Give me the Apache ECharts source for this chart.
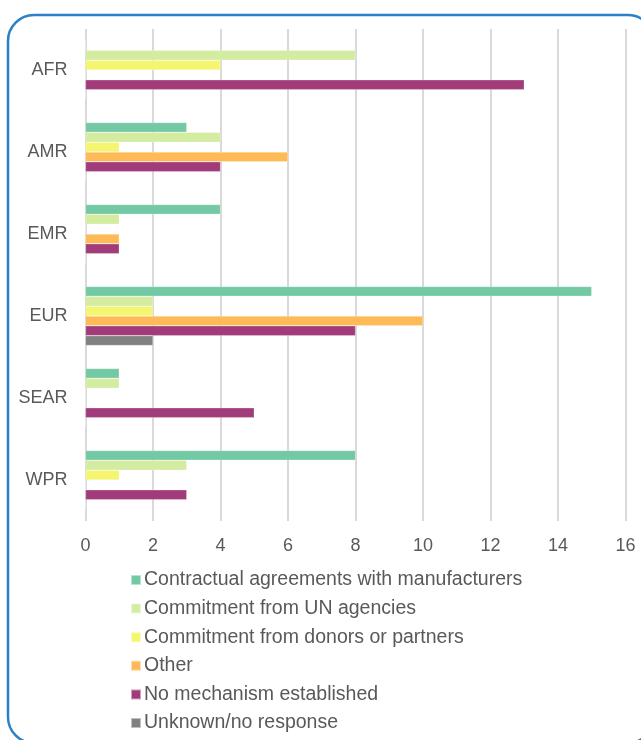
<!DOCTYPE html>
<html>
<head>
<meta charset="utf-8">
<script src="https://cdn.jsdelivr.net/npm/echarts@6/dist/echarts.min.js"></script>
<style>
html,body{margin:0;padding:0;background:#fff;}
#chart{width:641px;height:740px;}
</style>
</head>
<body>
<div id="chart"></div>
<script>
const regions = ['AFR', 'AMR', 'EMR', 'EUR', 'SEAR', 'WPR'];
const seriesNames = [
  'Contractual agreements with manufacturers',
  'Commitment from UN agencies',
  'Commitment from donors or partners',
  'Other',
  'No mechanism established',
  'Unknown/no response'
];
const contractual = [0, 3, 4, 15, 1, 8];
const unAgencies = [8, 4, 1, 2, 1, 3];
const donors = [4, 1, 0, 2, 0, 1];
const other = [0, 6, 1, 10, 0, 0];
const noMechanism = [13, 4, 1, 8, 5, 3];
const unknown = [0, 0, 0, 2, 0, 0];
const xTicks = [0, 2, 4, 6, 8, 10, 12, 14, 16];

const values = [contractual, unAgencies, donors, other, noMechanism, unknown];
const colors = ['#74c9a5', '#d3eca0', '#f5f56f', '#feba57', '#a13b7a', '#808080'];

const chart = echarts.init(document.getElementById('chart'));
const font = "'Liberation Sans', Arial, sans-serif";
chart.setOption({
  animation: false,
  backgroundColor: '#ffffff',
  graphic: [{
    type: 'rect',
    shape: { x: 8, y: 15, width: 646, height: 728, r: 26 },
    style: { fill: 'none', stroke: '#2b80c8', lineWidth: 2.5 },
    z: 100
  }],
  grid: { left: 85.5, right: 15.5, top: 29, bottom: 219, containLabel: false },
  xAxis: {
    type: 'value',
    min: xTicks[0],
    max: xTicks[xTicks.length - 1],
    interval: 2,
    axisLine: { show: false },
    axisTick: { show: false },
    axisLabel: { color: '#595959', fontSize: 18, fontFamily: font, margin: 16 },
    splitLine: { show: true, lineStyle: { color: '#d9d9d9', width: 2 } }
  },
  yAxis: {
    type: 'category',
    data: regions,
    inverse: true,
    axisLine: { show: false },
    axisTick: { show: false },
    axisLabel: { color: '#595959', fontSize: 18, fontFamily: font, margin: 18 },
    splitLine: { show: false }
  },
  legend: {
    orient: 'vertical',
    left: 125,
    top: 565,
    height: 200,
    itemWidth: 10,
    itemHeight: 10,
    itemGap: 8.6,
    icon: 'rect',
    textStyle: { color: '#595959', fontSize: 19.5, fontFamily: font, padding: [0, 0, 0, -2] },
    data: seriesNames
  },
  series: seriesNames.map((name, i) => ({
    name: name,
    type: 'bar',
    data: values[i],
    barGap: '0%',
    barCategoryGap: '28%',
    itemStyle: { color: colors[i], borderColor: 'rgba(255,255,255,0.5)', borderWidth: 0.5 }
  }))
});
</script>
</body>
</html>
